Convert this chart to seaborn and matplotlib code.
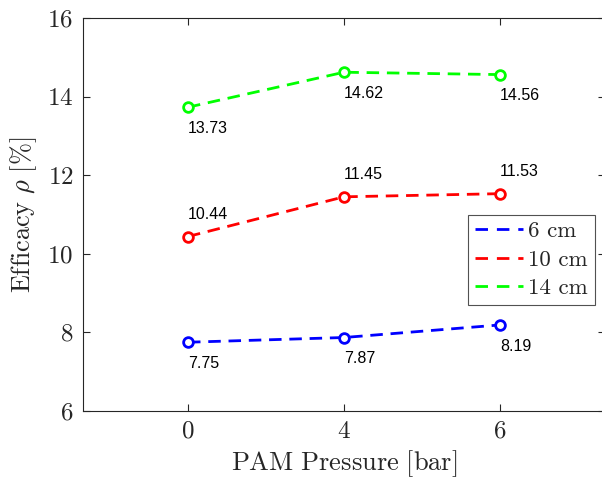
import matplotlib
matplotlib.use("Agg")
import matplotlib.pyplot as plt
from matplotlib.lines import Line2D
import seaborn as sns
import pandas as pd

sns.set_style("ticks")
plt.rcParams['font.family'] = 'cmr10'
plt.rcParams['mathtext.fontset'] = 'cm'
plt.rcParams['axes.formatter.use_mathtext'] = True

pressures = ["0", "4", "6"]
distances = ["6 cm", "10 cm", "14 cm"]
eff_6 = [7.75, 7.87, 8.19]
eff_10 = [10.44, 11.45, 11.53]
eff_14 = [13.73, 14.62, 14.56]
colors = ["#0000ff", "#ff0000", "#00ff00"]
label_above = [False, True, False]

def buildFrame():
    rows = []
    for d, vals in zip(distances, [eff_6, eff_10, eff_14]):
        for i, v in enumerate(vals):
            rows.append({"pos": i, "pressure": pressures[i], "dist": d, "eff": v})
    return pd.DataFrame(rows)

def linePlot(df):
    fig = plt.figure(figsize=(6.02, 4.79), dpi=100)
    ax = fig.add_axes([83/602, 68/479, 522/602, 393/479])
    pal = dict(zip(distances, colors))
    sns.lineplot(data=df, x="pos", y="eff", hue="dist", palette=pal,
                 marker="o", markersize=7, markeredgewidth=2, linewidth=2,
                 linestyle=(0, (4.5, 2.8)), legend=False, ax=ax)
    for ln in ax.lines:
        ln.set_markerfacecolor("white")
        ln.set_markeredgecolor(ln.get_color())

    # value labels
    for d, up in zip(distances, label_above):
        sub = df[df["dist"] == d]
        for _, r in sub.iterrows():
            off = 0.57 if up else -0.54
            ax.text(r["pos"], r["eff"] + off, f"{r['eff']:.2f}", ha="left", va="center",
                    fontsize=11.5, family="Liberation Sans", color="black")

    ax.set_xlim(-0.673, 2.673)
    ax.set_ylim(6, 16)
    ax.set_xticks(range(len(pressures)))
    ax.set_xticklabels(pressures)
    ax.set_yticks([6, 8, 10, 12, 14, 16])
    ax.tick_params(direction="in", length=5, width=0.8, top=True, right=True,
                   labelsize=18, colors="#262626", pad=7)
    for s in ax.spines.values():
        s.set_color("#262626")
        s.set_linewidth(0.8)
    ax.set_xlabel(r"$\mathrm{PAM\ Pressure\ [bar]}$", fontsize=19, color="#262626", labelpad=4)
    ax.set_ylabel(r"$\mathrm{Efficacy}\ \rho\ [\%]$", fontsize=19, color="#262626", labelpad=6)

    handles = [Line2D([0], [0], color=c, lw=2, linestyle=(0, (4.5, 3.2))) for c in colors]
    leg = ax.legend(handles, distances, loc="lower right", bbox_to_anchor=(0.981, 0.27),
                    borderaxespad=0, fontsize=16.5, frameon=True, fancybox=False,
                    edgecolor="#262626", handlelength=2.1, handletextpad=0.25,
                    labelspacing=0.36, borderpad=0.3)
    leg.get_frame().set_linewidth(0.8)
    fig.savefig("out.png", dpi=100)

def main():
    df = buildFrame()
    linePlot(df)

if __name__ == "__main__":
    main()
